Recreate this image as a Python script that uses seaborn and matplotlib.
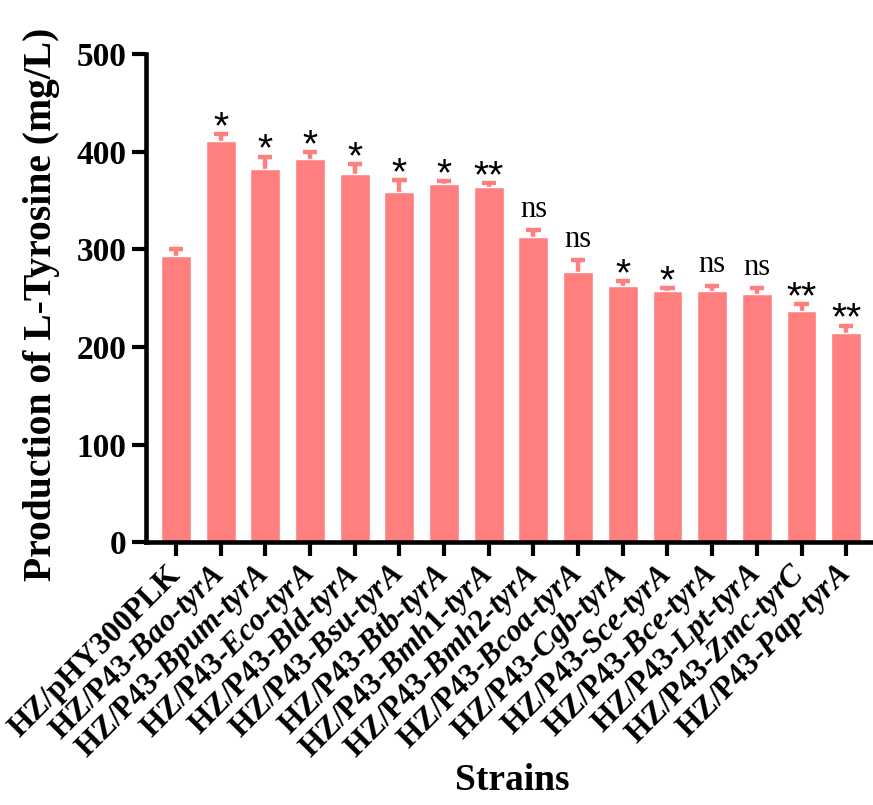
import matplotlib
matplotlib.use("Agg")
import matplotlib.pyplot as plt
import seaborn as sns
import numpy as np
import pandas as pd

# ---- data ----
strains = ["pHY300PLK", "Bao", "Bpum", "Eco", "Bld", "Bsu", "Btb", "Bmh1",
           "Bmh2", "Bcoa", "Cgb", "Sce", "Bce", "Lpt", "Zmc", "Pap"]
tick_labels = [
    r"HZ/pHY300PLK",
    r"HZ/P43-$\mathit{Bao}$-$\mathit{tyrA}$",
    r"HZ/P43-$\mathit{Bpum}$-$\mathit{tyrA}$",
    r"HZ/P43-$\mathit{Eco}$-$\mathit{tyrA}$",
    r"HZ/P43-$\mathit{Bld}$-$\mathit{tyrA}$",
    r"HZ/P43-$\mathit{Bsu}$-$\mathit{tyrA}$",
    r"HZ/P43-$\mathit{Btb}$-$\mathit{tyrA}$",
    r"HZ/P43-$\mathit{Bmh}$1-$\mathit{tyrA}$",
    r"HZ/P43-$\mathit{Bmh}$2-$\mathit{tyrA}$",
    r"HZ/P43-$\mathit{Bcoa}$-$\mathit{tyrA}$",
    r"HZ/P43-$\mathit{Cgb}$-$\mathit{tyrA}$",
    r"HZ/P43-$\mathit{Sce}$-$\mathit{tyrA}$",
    r"HZ/P43-$\mathit{Bce}$-$\mathit{tyrA}$",
    r"HZ/P43-$\mathit{Lpt}$-$\mathit{tyrA}$",
    r"HZ/P43-$\mathit{Zmc}$-$\mathit{tyrC}$",
    r"HZ/P43-$\mathit{Pap}$-$\mathit{tyrA}$",
]
means = [293, 411, 382, 393, 377, 359, 367, 364, 313, 277, 263, 257, 257, 254, 237, 214]
errors = [7, 7, 13, 7, 10, 12, 3, 4, 7, 12, 5, 3, 6, 6, 7, 8]
signif = ["", "*", "*", "*", "*", "*", "*", "**", "ns", "ns", "*", "*", "ns", "ns", "**", "**"]
y_ticks = [0, 100, 200, 300, 400, 500]

df = pd.DataFrame({"strain": strains, "mean": means})

# ---- style ----
sns.set_style("ticks")
plt.rcParams["font.family"] = ["Liberation Serif", "DejaVu Serif"]
plt.rcParams["font.weight"] = "bold"
plt.rcParams["text.color"] = "black"
plt.rcParams["axes.labelcolor"] = "black"
plt.rcParams["xtick.color"] = "black"
plt.rcParams["ytick.color"] = "black"
plt.rcParams["mathtext.fontset"] = "custom"
plt.rcParams["mathtext.rm"] = "Liberation Serif:bold"
plt.rcParams["mathtext.it"] = "Liberation Serif:italic:bold"
plt.rcParams["mathtext.bf"] = "Liberation Serif:bold"

bar_color = "#FF7F7F"

fig = plt.figure(figsize=(8.73, 8.05), dpi=100)
ax = fig.add_axes([0.1672, 0.3261, 0.8328, 0.6068])

sns.barplot(data=df, x="strain", y="mean", color=bar_color, saturation=1,
            width=0.67, errorbar=None, ax=ax, zorder=2)

xs = np.arange(len(strains))
tops = np.array(means) + np.array(errors)
cap_half = 0.16
ax.vlines(xs, means, tops, colors=bar_color, linewidth=3.2, zorder=1)
ax.hlines(tops, xs - cap_half, xs + cap_half, colors=bar_color, linewidth=3.2, zorder=1)

for i, s in enumerate(signif):
    if not s:
        continue
    if s == "ns":
        ax.annotate(s, xy=(i, tops[i]), xytext=(0, 9.5), textcoords="offset points",
                    ha="center", va="baseline", fontsize=22, color="black",
                    fontweight="normal", family="Liberation Serif")
    else:
        label = " ".join(s) if len(s) > 1 else s
        ax.annotate(s, xy=(i, tops[i]), xytext=(0, -3), textcoords="offset points",
                    ha="center", va="baseline", fontsize=28, color="black",
                    fontweight="normal", family="Liberation Sans")

ax.set_ylim(0, 500)
ax.set_xlim(-0.672, 15.60)
ax.set_yticks(y_ticks)
ax.set_yticklabels([str(t) for t in y_ticks], fontsize=24, fontweight="bold")
ax.set_xticks(xs)
ax.set_xticklabels(tick_labels, fontsize=22.5, fontweight="bold",
                   rotation=45, ha="right", va="center", rotation_mode="anchor")

for side in ["top", "right"]:
    ax.spines[side].set_visible(False)
for side in ["left", "bottom"]:
    ax.spines[side].set_linewidth(3.3)
    ax.spines[side].set_color("black")
ax.tick_params(axis="both", width=3, length=10, color="black", labelcolor="black")
ax.tick_params(axis="x", pad=10)
ax.tick_params(axis="y", pad=4)

ax.set_ylabel("Production of L-Tyrosine (mg/L)", fontsize=28.5, fontweight="bold")
ax.yaxis.set_label_coords(-0.118, 0.488)
ax.set_xlabel("Strains", fontsize=27, fontweight="bold")
ax.xaxis.set_label_coords(0.504, -0.452)

fig.savefig("out.png", dpi=100)
